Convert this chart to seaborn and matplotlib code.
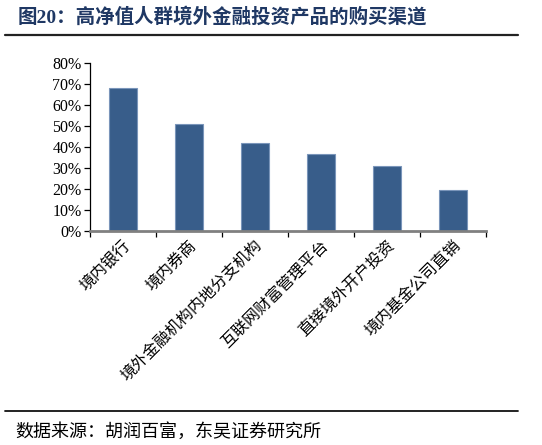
import pandas as pd
import matplotlib.pyplot as plt
import seaborn as sns
from matplotlib.ticker import FixedLocator, PercentFormatter
from matplotlib.lines import Line2D

channels = ["境内银行", "境内券商", "境外金融机构内地分支机构",
            "互联网财富管理平台", "直接境外开户投资", "境内基金公司直销"]
shares = [68, 51, 42, 36.5, 31, 19.5]
y_ticks = [0, 10, 20, 30, 40, 50, 60, 70, 80]

title_text = "图20：高净值人群境外金融投资产品的购买渠道"
source_text = "数据来源：胡润百富，东吴证券研究所"

sns.set_theme(style="white")
plt.rcParams["font.family"] = ["Liberation Serif", "Noto Sans CJK SC", "DejaVu Sans"]

df = pd.DataFrame({"channel": channels, "share": shares})

fig = plt.figure(figsize=(5.42, 4.45), dpi=100)
ax = fig.add_axes([0.166, 0.481, 0.731, 0.377])

sns.barplot(data=df, x="channel", y="share", order=channels, color="#385D8A",
            width=0.43, saturation=1, edgecolor="#7A95BA", linewidth=0.8, ax=ax)

ax.set_xlim(-0.5, len(channels) - 0.5)
ax.set_ylim(0, 80)
ax.yaxis.set_major_locator(FixedLocator(y_ticks))
ax.yaxis.set_major_formatter(PercentFormatter(decimals=0))
ax.set_xlabel("")
ax.set_ylabel("")

for s in ["top", "right"]:
    ax.spines[s].set_visible(False)
ax.spines["left"].set_color("black")
ax.spines["left"].set_linewidth(0.9)
ax.spines["bottom"].set_color("#808080")
ax.spines["bottom"].set_linewidth(2)
ax.spines["bottom"].set_zorder(5)

ax.tick_params(axis="y", which="major", direction="out", length=4, width=0.9,
               color="black", left=True, labelsize=11.5, labelcolor="black", pad=2)
ax.tick_params(axis="x", which="major", length=0, pad=5)
ax.set_xticks([i - 0.5 for i in range(len(channels) + 1)], minor=True)
ax.tick_params(axis="x", which="minor", direction="out", length=4, width=0.9,
               color="black", bottom=True)
ax.set_xticklabels(channels, rotation=45, ha="right", rotation_mode="anchor",
                   fontsize=11.5, color="black")

fig.text(0.033, 0.962, title_text, fontsize=14, fontweight="bold",
         color="#1F3864", va="center", ha="left")
fig.add_artist(Line2D([0.01, 0.955], [0.922, 0.922], transform=fig.transFigure,
                      color="#222222", linewidth=1.6))
fig.add_artist(Line2D([0.01, 0.955], [0.077, 0.077], transform=fig.transFigure,
                      color="#111111", linewidth=1.3))
fig.text(0.028, 0.030, source_text, fontsize=13, color="black", va="center", ha="left")

fig.savefig("out.png", dpi=100, facecolor="white")
